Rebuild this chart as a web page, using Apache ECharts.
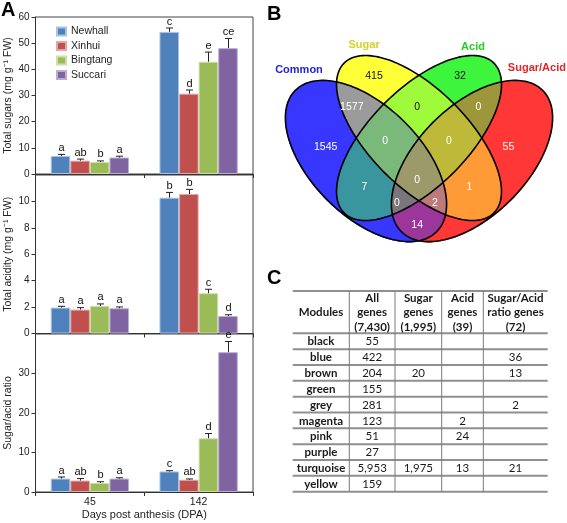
<!DOCTYPE html>
<html><head><meta charset="utf-8">
<script src="https://cdn.jsdelivr.net/npm/echarts@6/dist/echarts.min.js"></script>
<style>html,body{margin:0;padding:0;background:#fff}#c{width:567px;height:523px}</style>
</head><body><div id="c"></div>
<script>
// ---------- DATA ----------
const categories = ['45', '142'];
const varieties = ['Newhall', 'Xinhui', 'Bingtang', 'Succari'];
// rows = variety, cols = category (45, 142 DPA)
const sugarMean = [[6.9, 54.3], [5.1, 30.7], [4.6, 42.9], [6.3, 48.1]];
const sugarErr = [[0.6, 1.5], [0.6, 1.4], [0.4, 3.7], [0.5, 3.7]];
const sugarLetters = [['a', 'c'], ['ab', 'd'], ['b', 'e'], ['a', 'ce']];
const acidMean = [[1.96, 10.28], [1.81, 10.56], [2.09, 3.05], [1.91, 1.32]];
const acidErr = [[0.1, 0.4], [0.15, 0.35], [0.15, 0.3], [0.1, 0.1]];
const acidLetters = [['a', 'b'], ['a', 'b'], ['a', 'c'], ['a', 'd']];
const ratioMean = [[3.4, 5.2], [2.9, 3.1], [2.3, 13.6], [3.4, 35.4]];
const ratioErr = [[0.4, 0.2], [0.5, 0.2], [0.3, 1.2], [0.2, 2.7]];
const ratioLetters = [['a', 'c'], ['ab', 'ab'], ['b', 'd'], ['a', 'e']];

const vennSets = ['Common', 'Sugar', 'Acid', 'Sugar/Acid'];
const vennCounts = [1545, 415, 32, 55, 1577, 0, 0, 0, 0, 7, 1, 0, 0, 2, 14];

const tableHeaders = ['Modules', 'All\ngenes\n(7,430)', 'Sugar\ngenes\n(1,995)', 'Acid\ngenes\n(39)', 'Sugar/Acid\nratio genes\n(72)'];
const modules = ['black', 'blue', 'brown', 'green', 'grey', 'magenta', 'pink', 'purple', 'turquoise', 'yellow'];
const allGenes = ['55', '422', '204', '155', '281', '123', '51', '27', '5,953', '159'];
const sugarGenes = ['', '', '20', '', '', '', '', '', '1,975', ''];
const acidGenes = ['', '', '', '', '', '2', '24', '', '13', ''];
const ratioGenes = ['', '36', '13', '', '2', '', '', '', '21', ''];

// ---------- LAYOUT / STYLE ----------
const FONT = '"Liberation Sans", Arial, sans-serif';
const TFONT = 'Lato, "Liberation Sans", sans-serif';
const barColors = ['#4f81bd', '#c0504d', '#9bbb59', '#8064a2'];
const barEdge = ['#a9c3e3', '#e0a9a7', '#cde0a8', '#bcaed3'];
const CAT_GAP = 0.28;

// venn geometry (unit square coords, y up)
const vennCX = [0.3233, 0.5, 0.5, 0.6767];
const vennCY = [0.3133, 0.39, 0.39, 0.3133];
const vennA = [0.333, 0.353, 0.353, 0.333];
const vennB = [0.183, 0.163, 0.163, 0.183];
const vennAngle = [-45, -45, 45, 45];
const vennRGB = [[55, 55, 255], [255, 255, 55], [60, 245, 60], [255, 55, 55]];
const vennSetColor = ['#2323e0', '#d2d22a', '#22d022', '#e02626'];
const vennSetX = [0.1, 0.317, 0.68, 0.893];
const vennSetY = [0.617, 0.7, 0.693, 0.623];
const vennCountX = [0.189, 0.35, 0.637, 0.798, 0.276, 0.494, 0.698, 0.387, 0.6, 0.318, 0.668, 0.494, 0.426, 0.553, 0.494];
const vennCountY = [0.361, 0.597, 0.597, 0.361, 0.492, 0.492, 0.492, 0.378, 0.378, 0.226, 0.226, 0.25, 0.172, 0.172, 0.099];
const vennCountDark = [false, true, true, false, false, true, false, false, false, false, false, false, false, false, false];

const colEdges = [0, 56.6, 102.3, 149, 190.6, 255];
const rowEdges = [0, 42.3];
for (let i = 1; i <= modules.length; i++) rowEdges.push(42.3 + i * 15.84);

// ---------- BUILD ----------
const chart = echarts.init(document.getElementById('c'), null, {renderer: 'canvas'});

const panels = [
  {mean: sugarMean, err: sugarErr, letters: sugarLetters, max: 60, interval: 10, name: 'Total sugars (mg g\u207B\u00B9 FW)', top: 17, height: 157, showMax: true},
  {mean: acidMean, err: acidErr, letters: acidLetters, max: 12, interval: 2, name: 'Total acidity (mg g\u207B\u00B9 FW)', top: 175, height: 158.5, showMax: false},
  {mean: ratioMean, err: ratioErr, letters: ratioLetters, max: 40, interval: 10, name: 'Sugar/acid ratio', top: 334, height: 158, showMax: false}
];

const grids = [], xAxes = [], yAxes = [], series = [];
panels.forEach((p, gi) => {
  grids.push({left: 35.5, top: p.top, width: 217.5, height: p.height, show: true, borderColor: '#444', borderWidth: 1, backgroundColor: 'transparent', outerBoundsMode: 'none', containLabel: false});
  const last = gi === panels.length - 1;
  xAxes.push({
    type: 'category', gridIndex: gi, data: categories,
    axisLine: {show: true, lineStyle: {color: '#333', width: 1}},
    axisTick: {show: true, length: 4, lineStyle: {color: '#333'}},
    axisLabel: {show: last, fontSize: 10.5, color: '#222', fontFamily: FONT, margin: 5},
    name: last ? 'Days post anthesis (DPA)' : '', nameLocation: 'middle', nameGap: 17,
    nameTextStyle: {fontSize: 11, color: '#222', fontFamily: FONT},
    splitLine: {show: false}
  });
  yAxes.push({
    type: 'value', gridIndex: gi, min: 0, max: p.max, interval: p.interval,
    axisLine: {show: true, lineStyle: {color: '#333', width: 1}},
    axisTick: {show: true, length: 4, lineStyle: {color: '#333'}},
    axisLabel: {fontSize: 10, color: '#222', fontFamily: FONT, margin: 6, showMaxLabel: p.showMax},
    splitLine: {show: false},
    name: p.name, nameLocation: 'middle', nameGap: 22,
    nameTextStyle: {fontSize: 10.5, color: '#222', fontFamily: FONT}
  });
  varieties.forEach((v, vi) => {
    series.push({
      type: 'bar', name: v, xAxisIndex: gi, yAxisIndex: gi,
      data: p.mean[vi], barGap: '0%', barCategoryGap: (CAT_GAP * 100) + '%',
      itemStyle: {color: barColors[vi], borderColor: barEdge[vi], borderWidth: 1},
      emphasis: {disabled: true}, z: 2
    });
  });
  const errData = [], errLetters = [];
  p.mean.forEach((row, vi) => row.forEach((m, ci) => {
    errData.push([ci, m, p.err[vi][ci], vi]);
    errLetters.push(p.letters[vi][ci]);
  }));
  series.push({
    type: 'custom', xAxisIndex: gi, yAxisIndex: gi, z: 5, data: errData,
    encode: {x: 0, y: 1},
    renderItem(params, api) {
      const ci = api.value(0), m = api.value(1), e = api.value(2), vi = api.value(3);
      const catW = api.size([1, 0])[0];
      const barW = catW * (1 - CAT_GAP) / 4;
      const c = api.coord([ci, m]);
      const x = Math.round(c[0] + (vi - 1.5) * barW) + 0.5;
      const yTop = api.coord([ci, m + e])[1];
      const cap = 3.5;
      return {type: 'group', children: [
        {type: 'line', shape: {x1: x, y1: c[1], x2: x, y2: yTop}, style: {stroke: '#222', lineWidth: 1}},
        {type: 'line', shape: {x1: x - cap, y1: yTop, x2: x + cap, y2: yTop}, style: {stroke: '#222', lineWidth: 1}},
        {type: 'text', x: x, y: yTop - 1, style: {text: errLetters[params.dataIndex], align: 'center', verticalAlign: 'bottom', fontSize: 11, fontFamily: FONT, fill: '#111'}}
      ]};
    }
  });
});

// ---------- Venn (grid 3) ----------
grids.push({left: 269, top: 30, width: 300, height: 225, show: false, outerBoundsMode: 'none'});
xAxes.push({type: 'value', gridIndex: 3, min: 0, max: 1, show: false});
yAxes.push({type: 'value', gridIndex: 3, min: 0, max: 0.75, show: false});

function ellipsePts(i, api) {
  const pts = [];
  const th = vennAngle[i] * Math.PI / 180;
  const N = 180;
  for (let k = 0; k < N; k++) {
    const t = k / N * 2 * Math.PI;
    const ex = vennA[i] * Math.cos(t), ey = vennB[i] * Math.sin(t);
    pts.push(api.coord([vennCX[i] + ex * Math.cos(th) - ey * Math.sin(th), vennCY[i] + ex * Math.sin(th) + ey * Math.cos(th)]));
  }
  return pts;
}
function insideEll(i, u, v) {
  const th = vennAngle[i] * Math.PI / 180, c = Math.cos(th), s = Math.sin(th);
  const dx = u - vennCX[i], dy = v - vennCY[i];
  const p = dx * c + dy * s, q = -dx * s + dy * c;
  return p * p / (vennA[i] * vennA[i]) + q * q / (vennB[i] * vennB[i]) <= 1;
}
function spanEll(i, v) {
  const th = vennAngle[i] * Math.PI / 180, c = Math.cos(th), s = Math.sin(th);
  const a2 = vennA[i] * vennA[i], b2 = vennB[i] * vennB[i];
  const dy = v - vennCY[i];
  const A = c * c / a2 + s * s / b2;
  const B = 2 * dy * (c * s / a2 - s * c / b2);
  const C = dy * dy * (s * s / a2 + c * c / b2) - 1;
  const D = B * B - 4 * A * C;
  if (D <= 0) return null;
  const r = Math.sqrt(D);
  return [vennCX[i] + (-B - r) / (2 * A), vennCX[i] + (-B + r) / (2 * A)];
}
// region fills: each region coloured with the mean colour of its member sets
series.push({
  type: 'custom', xAxisIndex: 3, yAxisIndex: 3, z: 10, silent: true,
  data: [[0.5, 0.375]],
  renderItem(params, api) {
    const children = [];
    const yTopPx = api.coord([0, 0.75])[1], yBotPx = api.coord([0, 0])[1];
    const pxPerV = (yBotPx - yTopPx) / 0.75;
    for (let py = yTopPx; py < yBotPx; py += 1) {
      const v = 0.75 - (py + 0.5 - yTopPx) / pxPerV;
      const cuts = [];
      for (let i = 0; i < 4; i++) { const sp = spanEll(i, v); if (sp) cuts.push(sp[0], sp[1]); }
      if (!cuts.length) continue;
      cuts.sort((a, b) => a - b);
      for (let k = 0; k < cuts.length - 1; k++) {
        const um = (cuts[k] + cuts[k + 1]) / 2;
        let n = 0, rr = 0, gg = 0, bb = 0;
        for (let i = 0; i < 4; i++) if (insideEll(i, um, v)) { n++; rr += vennRGB[i][0]; gg += vennRGB[i][1]; bb += vennRGB[i][2]; }
        if (!n) continue;
        const xa = api.coord([cuts[k], v])[0], xb = api.coord([cuts[k + 1], v])[0];
        children.push({type: 'rect', shape: {x: xa - 0.3, y: py, width: xb - xa + 0.6, height: 1.6},
          style: {fill: 'rgb(' + Math.round(rr / n) + ',' + Math.round(gg / n) + ',' + Math.round(bb / n) + ')'}});
      }
    }
    return {type: 'group', children};
  }
});
series.push({
  type: 'custom', xAxisIndex: 3, yAxisIndex: 3, z: 12, silent: true,
  data: [0, 1, 2, 3].map(i => [vennCX[i], vennCY[i], i]),
  renderItem(params, api) {
    return {type: 'polygon', shape: {points: ellipsePts(api.value(2), api)}, style: {fill: 'none', stroke: '#000', lineWidth: 1.6}};
  }
});
series.push({
  type: 'custom', xAxisIndex: 3, yAxisIndex: 3, z: 13, silent: true,
  data: vennCounts.map((c, i) => [vennCountX[i], vennCountY[i], c]),
  renderItem(params, api) {
    const p = api.coord([api.value(0), api.value(1)]);
    return {type: 'text', x: p[0], y: p[1], style: {text: String(api.value(2)), align: 'center', verticalAlign: 'middle', fontSize: 10.5, fontFamily: FONT, fill: vennCountDark[params.dataIndex] ? '#111' : '#fff'}};
  }
});
series.push({
  type: 'custom', xAxisIndex: 3, yAxisIndex: 3, z: 13, silent: true,
  data: vennSets.map((s, i) => [vennSetX[i], vennSetY[i]]),
  renderItem(params, api) {
    const p = api.coord([api.value(0), api.value(1)]);
    const i = params.dataIndex;
    return {type: 'text', x: p[0], y: p[1], style: {text: vennSets[i], align: 'center', verticalAlign: 'middle', fontSize: 11, fontWeight: 'bold', fontFamily: FONT, fill: vennSetColor[i]}};
  }
});

// ---------- Table (grid 4) ----------
grids.push({left: 292.7, top: 291, width: 255, height: 200.7, show: false, outerBoundsMode: 'none'});
xAxes.push({type: 'value', gridIndex: 4, min: 0, max: 255, show: false});
yAxes.push({type: 'value', gridIndex: 4, min: 0, max: rowEdges[rowEdges.length - 1], inverse: true, show: false});

const tableCols = [modules, allGenes, sugarGenes, acidGenes, ratioGenes];
const cells = [];
tableHeaders.forEach((h, c) => cells.push({c, r: 0, t: h, b: true}));
modules.forEach((m, r) => tableCols.forEach((col, c) => { if (col[r] !== '') cells.push({c, r: r + 1, t: col[r], b: c === 0}); }));

const hLines = rowEdges.map(y => [0, y, 255, y]);
const vLines = colEdges.slice(1, -1).map(x => [x, 0, x, rowEdges[rowEdges.length - 1]]);
series.push({
  type: 'custom', xAxisIndex: 4, yAxisIndex: 4, z: 20, silent: true,
  data: hLines.concat(vLines),
  renderItem(params, api) {
    const a = api.coord([api.value(0), api.value(1)]);
    const b = api.coord([api.value(2), api.value(3)]);
    const horiz = a[1] === b[1];
    return {type: 'line', shape: {x1: a[0], y1: a[1], x2: b[0], y2: b[1]},
      style: horiz ? {stroke: '#8f8f8f', lineWidth: 2} : {stroke: '#7a7a7a', lineWidth: 1}};
  }
});
series.push({
  type: 'custom', xAxisIndex: 4, yAxisIndex: 4, z: 21, silent: true,
  data: cells.map((c, i) => [(colEdges[c.c] + colEdges[c.c + 1]) / 2, (rowEdges[c.r] + rowEdges[c.r + 1]) / 2, i]),
  renderItem(params, api) {
    const cell = cells[api.value(2)];
    const p = api.coord([api.value(0), api.value(1)]);
    return {type: 'text', x: p[0], y: p[1] + 0.5, style: {text: cell.t, align: 'center', verticalAlign: 'middle', fontSize: 11.5, lineHeight: 14.3, fontWeight: cell.b ? 'bold' : 'normal', fontFamily: TFONT, fill: '#1a1a1a'}};
  }
});

chart.setOption({
  animation: false,
  backgroundColor: '#fff',
  title: [
    {text: 'A', left: 1, top: 0, padding: 0, textStyle: {fontSize: 20, fontWeight: 'bold', color: '#000', fontFamily: FONT}},
    {text: 'B', left: 267, top: 4, padding: 0, textStyle: {fontSize: 20, fontWeight: 'bold', color: '#000', fontFamily: FONT}},
    {text: 'C', left: 267, top: 268, padding: 0, textStyle: {fontSize: 20, fontWeight: 'bold', color: '#000', fontFamily: FONT}}
  ],
  legend: {
    data: varieties, orient: 'vertical', left: 56, top: 26, padding: 0,
    itemWidth: 9, itemHeight: 8, itemGap: 3.5, icon: 'rect',
    textStyle: {fontSize: 10.5, color: '#222', fontFamily: FONT}
  },
  grid: grids, xAxis: xAxes, yAxis: yAxes, series: series
});
</script></body></html>
